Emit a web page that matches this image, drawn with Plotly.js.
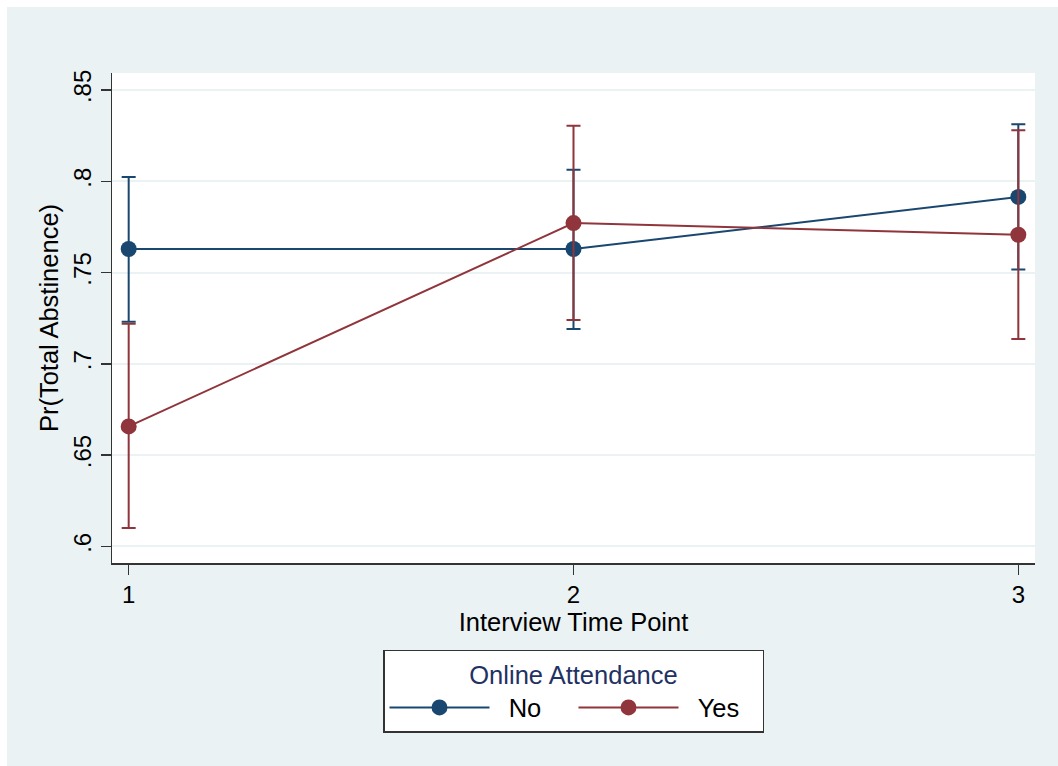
<!DOCTYPE html>
<html>
<head>
<meta charset="utf-8">
<script src="https://cdn.plot.ly/plotly-3.0.1.min.js"></script>
<style>
html,body{margin:0;padding:0;background:#ffffff;}
#chart{position:absolute;left:7px;top:7px;width:1051px;height:759px;}
</style>
</head>
<body>
<div id="chart"></div>
<script>
// Data
const timePoints = [1, 2, 3];
const seriesNames = ["No", "Yes"];
const noEstimate = [0.7629, 0.7629, 0.7914];
const noLower    = [0.7231, 0.7191, 0.7517];
const noUpper    = [0.8023, 0.8063, 0.8312];
const yesEstimate = [0.6657, 0.7771, 0.7707];
const yesLower    = [0.6101, 0.7240, 0.7136];
const yesUpper    = [0.7220, 0.8304, 0.8279];
const yTickVals = [0.6, 0.65, 0.7, 0.75, 0.8, 0.85];
const yTickText = [".6", ".65", ".7", ".75", ".8", ".85"];
const xTickVals = [1, 2, 3];
const xTickText = ["1", "2", "3"];

const navy = "#1a476f";
const maroon = "#90353b";
const font = "Liberation Sans, Arial, Helvetica, sans-serif";
const pad = "\u00a0\u00a0";

function mk(name, est, lo, hi, color) {
  return {
    type: "scatter",
    mode: "lines+markers",
    name: pad + name,
    x: timePoints,
    y: est,
    line: {color: color, width: 2},
    marker: {color: color, size: 16},
    error_y: {
      type: "data",
      symmetric: false,
      array: est.map((v, i) => hi[i] - v),
      arrayminus: est.map((v, i) => v - lo[i]),
      color: color,
      thickness: 2,
      width: 7
    }
  };
}

const data = [
  mk(seriesNames[0], noEstimate, noLower, noUpper, navy),
  mk(seriesNames[1], yesEstimate, yesLower, yesUpper, maroon)
];

const layout = {
  width: 1051,
  height: 759,
  paper_bgcolor: "#eaf2f3",
  plot_bgcolor: "#ffffff",
  margin: {l: 105, r: 23, t: 66, b: 203},
  font: {family: font, color: "#000000", size: 24},
  showlegend: true,
  xaxis: {
    range: [0.9625, 3.0375],
    tickvals: xTickVals,
    ticktext: xTickText,
    showgrid: false,
    zeroline: false,
    showline: true,
    linecolor: "#333333",
    linewidth: 1.5,
    ticks: "outside",
    ticklen: 10,
    tickwidth: 1.5,
    tickcolor: "#333333",
    tickfont: {size: 24},
    title: {text: "Interview Time Point", font: {size: 25.5}, standoff: 3}
  },
  yaxis: {
    range: [0.5909, 0.8593],
    tickvals: yTickVals,
    ticktext: yTickText,
    tickangle: -90,
    showgrid: true,
    gridcolor: "#eaf2f3",
    gridwidth: 2,
    zeroline: false,
    showline: true,
    linecolor: "#333333",
    linewidth: 1.5,
    ticks: "outside",
    ticklen: 10,
    tickwidth: 1.5,
    tickcolor: "#333333",
    tickfont: {size: 24},
    title: {text: "Pr(Total Abstinence)", font: {size: 25.5}, standoff: 3}
  },
  legend: {
    orientation: "h",
    xref: "paper",
    yref: "paper",
    x: 0.5,
    xanchor: "center",
    y: -0.177,
    yanchor: "top",
    bgcolor: "#ffffff",
    bordercolor: "#333333",
    borderwidth: 1.5,
    itemwidth: 100,
    entrywidth: 74,
    font: {size: 25.5, color: "#000000"},
    title: {text: "Online Attendance", side: "top center", font: {size: 25.5, color: "#1f3263"}}
  }
};

Plotly.newPlot("chart", data, layout, {displayModeBar: false, staticPlot: true});
</script>
</body>
</html>
